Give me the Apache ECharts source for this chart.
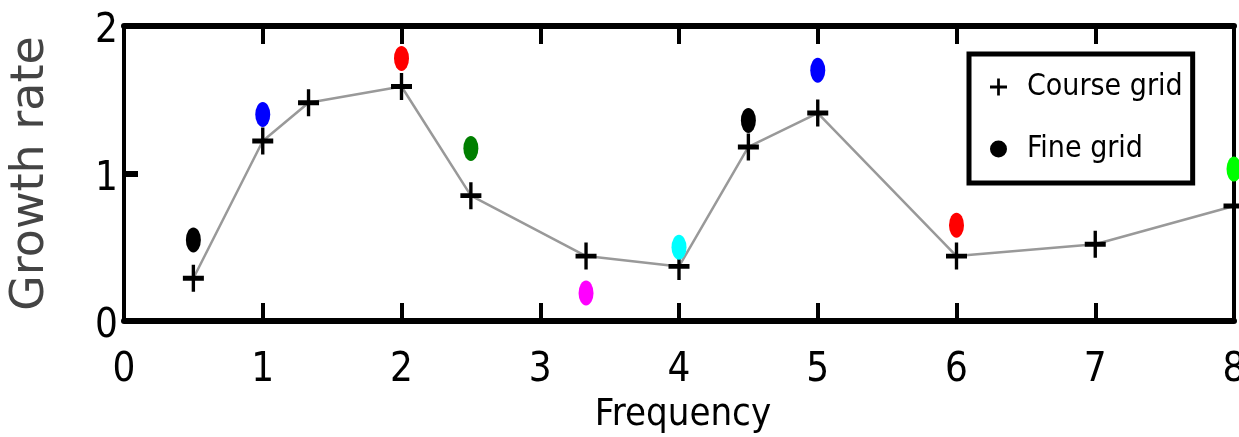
<!DOCTYPE html>
<html>
<head>
<meta charset="utf-8">
<script src="https://cdn.jsdelivr.net/npm/echarts@6/dist/echarts.min.js"></script>
<style>
html,body{margin:0;padding:0;background:#fff;}
#chart{width:1239px;height:437px;}
</style>
</head>
<body>
<div id="chart"></div>
<script>
// Data
const coarseX = [0.5, 1, 1.33, 2, 2.5, 3.33, 4, 4.5, 5, 6, 7, 8];
const coarseY = [0.29, 1.22, 1.48, 1.59, 0.85, 0.44, 0.37, 1.18, 1.41, 0.44, 0.52, 0.78];
const fineX = [0.5, 1, 2, 2.5, 3.33, 4, 4.5, 5, 6, 8];
const fineY = [0.55, 1.40, 1.78, 1.17, 0.19, 0.50, 1.36, 1.70, 0.65, 1.03];
const fineColors = ['#000000', '#0000ff', '#ff0000', '#007f00', '#ff00ff', '#00ffff', '#000000', '#0000ff', '#ff0000', '#00ff00'];
const seriesNames = ['Course grid', 'Fine grid'];
const xLabel = 'Frequency';
const yLabel = 'Growth rate';

const narrow = "'Liberation Sans Narrow', 'DejaVu Sans Condensed', 'Arial Narrow', sans-serif";
const plusPath = 'path://M42,0 L58,0 L58,41 L100,41 L100,59 L58,59 L58,100 L42,100 L42,59 L0,59 L0,41 L42,41 Z';

const chart = echarts.init(document.getElementById('chart'), null, {renderer: 'canvas'});

const option = {
  animation: false,
  backgroundColor: '#ffffff',
  grid: {left: 124, right: 5, top: 26, bottom: 116, containLabel: false, outerBoundsMode: 'none'},
  legend: {
    orient: 'vertical',
    left: 969,
    top: 54,
    padding: [18, 10, 19, 21],
    itemGap: 32,
    itemWidth: 17,
    itemHeight: 26,
    backgroundColor: '#ffffff',
    borderColor: '#000000',
    borderWidth: 5,
    textStyle: {fontFamily: narrow, fontSize: 30, color: '#000', padding: [0, 0, 0, 15], lineHeight: 30},
    data: [
      {name: seriesNames[0], icon: plusPath},
      {name: seriesNames[1], icon: 'circle'}
    ]
  },
  xAxis: [
    {
      type: 'value', position: 'bottom', min: 0, max: 8, interval: 1,
      name: xLabel, nameLocation: 'middle', nameGap: 64,
      nameTextStyle: {fontFamily: narrow, fontSize: 38, color: '#000', padding: [0, 0, 0, 8]},
      axisLine: {show: true, onZero: false, lineStyle: {color: '#000', width: 6}},
      axisTick: {show: true, inside: true, length: 18, lineStyle: {color: '#000', width: 4}},
      axisLabel: {show: true, margin: 30, fontFamily: narrow, fontSize: 40, color: '#000'},
      splitLine: {show: false}
    },
    {
      type: 'value', position: 'top', min: 0, max: 8, interval: 1,
      axisLine: {show: true, onZero: false, lineStyle: {color: '#000', width: 6}},
      axisTick: {show: true, inside: true, length: 18, lineStyle: {color: '#000', width: 4}},
      axisLabel: {show: false},
      splitLine: {show: false}
    }
  ],
  yAxis: [
    {
      type: 'value', position: 'left', min: 0, max: 2, interval: 1,
      name: yLabel, nameLocation: 'middle', nameGap: 70, nameRotate: 90,
      nameTextStyle: {fontFamily: "'DejaVu Sans', sans-serif", fontSize: 46, color: '#444'},
      axisLine: {show: true, onZero: false, lineStyle: {color: '#000', width: 4}},
      axisTick: {show: true, inside: true, length: 14, lineStyle: {color: '#000', width: 6}},
      axisLabel: {show: true, margin: 6, verticalAlign: 'top', lineHeight: 12, fontFamily: narrow, fontSize: 40, color: '#000'},
      splitLine: {show: false}
    },
    {
      type: 'value', position: 'right', min: 0, max: 2, interval: 1,
      axisLine: {show: true, onZero: false, lineStyle: {color: '#000', width: 4}},
      axisTick: {show: false},
      axisLabel: {show: false},
      splitLine: {show: false}
    }
  ],
  series: [
    {
      name: seriesNames[0],
      type: 'line',
      xAxisIndex: 0, yAxisIndex: 0,
      clip: false,
      symbol: plusPath,
      symbolSize: [21, 27],
      itemStyle: {color: '#000000'},
      lineStyle: {color: '#999999', width: 2.5},
      data: coarseX.map((x, i) => [x, coarseY[i]]),
      z: 3
    },
    {
      name: seriesNames[1],
      type: 'scatter',
      xAxisIndex: 0, yAxisIndex: 0,
      clip: false,
      symbol: 'circle',
      symbolSize: [15, 25],
      itemStyle: {color: '#000000', opacity: 1},
      data: fineX.map((x, i) => ({value: [x, fineY[i]], itemStyle: {color: fineColors[i]}})),
      z: 4
    }
  ]
};
chart.setOption(option);
</script>
</body>
</html>
